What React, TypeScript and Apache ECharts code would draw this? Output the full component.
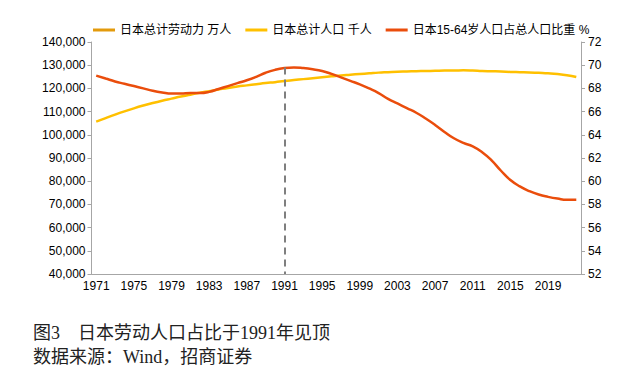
import React, { useEffect, useRef } from "react";
import * as echarts from "echarts";

const years: string[] = [
  "1971","1972","1973","1974","1975","1976","1977","1978","1979","1980",
  "1981","1982","1983","1984","1985","1986","1987","1988","1989","1990",
  "1991","1992","1993","1994","1995","1996","1997","1998","1999","2000",
  "2001","2002","2003","2004","2005","2006","2007","2008","2009","2010",
  "2011","2012","2013","2014","2015","2016","2017","2018","2019","2020",
  "2021","2022",
];

// 日本总计劳动力 万人 (below the visible range of the left axis; legend only)
const laborForce: number[] = [];

// 日本总计人口 千人
const population: number[] = [
  105700, 107200, 108700, 110100, 111400, 112600, 113700, 114700, 115600, 116500,
  117300, 118100, 118800, 119500, 120200, 120800, 121300, 121800, 122300, 122700,
  123200, 123600, 124000, 124400, 124800, 125200, 125600, 125900, 126200, 126500,
  126800, 127000, 127200, 127300, 127400, 127500, 127600, 127700, 127700, 127800,
  127700, 127500, 127400, 127300, 127100, 127000, 126900, 126700, 126500, 126200,
  125700, 124900,
];

// 日本15-64岁人口占总人口比重 %
const workingShare: number[] = [
  69.1, 68.85, 68.6, 68.4, 68.2, 68.0, 67.8, 67.65, 67.55, 67.55,
  67.6, 67.6, 67.7, 67.95, 68.2, 68.45, 68.7, 69.0, 69.35, 69.6,
  69.75, 69.8, 69.75, 69.65, 69.5, 69.25, 68.95, 68.65, 68.35, 68.0,
  67.6, 67.1, 66.7, 66.3, 65.9, 65.4, 64.85, 64.25, 63.7, 63.3,
  63.0, 62.5, 61.8, 60.9, 60.1, 59.55, 59.15, 58.85, 58.65, 58.5,
  58.4, 58.4,
];

const peakYear = "1991";
const peakTop = 129000;

const seriesNames = ["日本总计劳动力 万人", "日本总计人口 千人", "日本15-64岁人口占总人口比重 %"];
const colors = ["#E39A0C", "#FFC000", "#EA4D0C"];

const caption1 = "图3\u3000日本劳动人口占比于1991年见顶";
const caption2 = "数据来源：Wind，招商证券";

export default function App() {
  const ref = useRef<HTMLDivElement>(null);
  useEffect(() => {
    if (!ref.current) return;
    const chart = echarts.init(ref.current, undefined, { renderer: "svg" });
    const sans = "'Liberation Sans', Arial, 'Noto Sans CJK SC', sans-serif";
    const axisColor = "#A6A6A6";
    chart.setOption({
      animation: false,
      backgroundColor: "#ffffff",
      textStyle: { fontFamily: sans },
      color: colors,
      legend: {
        top: 19,
        left: 88,
        itemWidth: 22,
        itemHeight: 3,
        itemGap: 14,
        icon: "rect",
        textStyle: { fontSize: 12, color: "#000", fontFamily: sans },
        data: seriesNames,
      },
      grid: { left: 91.5, right: 45, top: 42, bottom: 99, containLabel: false },
      xAxis: {
        type: "category",
        data: years,
        boundaryGap: true,
        axisLine: { lineStyle: { color: axisColor, width: 1 } },
        axisTick: { interval: 3, alignWithLabel: false, length: 4, lineStyle: { color: axisColor } },
        axisLabel: { interval: 3, color: "#000", fontSize: 12, margin: 6 },
        splitLine: { show: false },
      },
      yAxis: [
        {
          type: "value",
          min: 40000,
          max: 140000,
          interval: 10000,
          axisLine: { show: true, lineStyle: { color: axisColor } },
          axisTick: { show: true, length: 4, lineStyle: { color: axisColor } },
          axisLabel: {
            color: "#000",
            fontSize: 12,
            margin: 6,
            formatter: (v: number) => v.toLocaleString("en-US"),
          },
          splitLine: { show: false },
        },
        {
          type: "value",
          min: 52,
          max: 72,
          interval: 2,
          position: "right",
          axisLine: { show: true, lineStyle: { color: axisColor } },
          axisTick: { show: true, length: 4, lineStyle: { color: axisColor } },
          axisLabel: { color: "#000", fontSize: 12, margin: 7 },
          splitLine: { show: false },
        },
      ],
      series: [
        {
          name: seriesNames[0],
          type: "line",
          yAxisIndex: 0,
          data: laborForce,
          showSymbol: false,
          lineStyle: { width: 2.5, color: colors[0] },
          itemStyle: { color: colors[0] },
        },
        {
          name: seriesNames[1],
          type: "line",
          yAxisIndex: 0,
          data: population,
          smooth: true,
          showSymbol: false,
          symbol: "none",
          lineStyle: { width: 2.5, color: colors[1] },
          itemStyle: { color: colors[1] },
          markLine: {
            silent: true,
            symbol: ["none", "none"],
            label: { show: false },
            lineStyle: { color: "#7F7F7F", width: 2, type: [7, 5] },
            data: [[{ coord: [peakYear, peakTop] }, { coord: [peakYear, 40000] }]],
          },
          z: 2,
        },
        {
          name: seriesNames[2],
          type: "line",
          yAxisIndex: 1,
          data: workingShare,
          smooth: true,
          showSymbol: false,
          symbol: "none",
          lineStyle: { width: 2.5, color: colors[2] },
          itemStyle: { color: colors[2] },
          z: 3,
        },
      ],
      graphic: [
        {
          type: "text",
          left: 33,
          top: 324,
          style: {
            text: caption1,
            fontSize: 18,
            fill: "#222",
            fontFamily: "'Liberation Serif', 'Noto Sans CJK SC', serif",
          },
        },
        {
          type: "text",
          left: 33,
          top: 348,
          style: {
            text: caption2,
            fontSize: 18,
            fill: "#222",
            fontFamily: "'Liberation Serif', 'Noto Sans CJK SC', serif",
          },
        },
      ],
    });
    return () => chart.dispose();
  }, []);
  return (
    <div
      ref={ref}
      style={{ position: "fixed", left: 0, top: 0, width: 626, height: 373, background: "#fff" }}
    />
  );
}
